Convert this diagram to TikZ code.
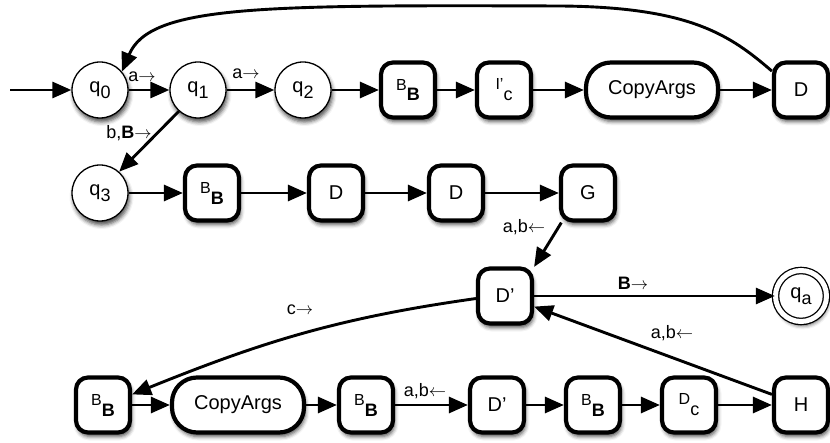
\documentclass[tikz,border=0pt]{standalone}
\usepackage{fontspec}
\setmainfont{Liberation Sans}
\usetikzlibrary{arrows.meta,shadows.blur}

% raised / lowered parts of a state name
\newcommand{\lowpart}[1]{\raisebox{-5.5pt}{\fontsize{18}{18}\selectfont #1}}
\newcommand{\highpart}[1]{\raisebox{5.5pt}{\fontsize{16}{16}\selectfont #1}}
\newcommand{\BB}{\highpart{B}\lowpart{\textbf{B}}}
% head-move arrows in the labels
\newcommand{\mr}{\ensuremath{\rightarrow}}
\newcommand{\ml}{\ensuremath{\leftarrow}}

\begin{document}
\begin{tikzpicture}[x=1pt,y=-1pt,
  shad/.style={blur shadow={shadow xshift=1.5pt,shadow yshift=-4pt,
      shadow blur radius=4pt,shadow opacity=70}},
  state/.style={circle,draw,line width=1.3pt,fill=white,minimum size=56pt,
      inner sep=0pt,font=\fontsize{20}{20}\selectfont,shad},
  accept/.style={state,minimum size=51pt,double,double distance=5pt},
  box/.style={rectangle,rounded corners=12pt,draw,line width=4.2pt,fill=white,
      minimum width=54pt,minimum height=55pt,inner sep=0pt,
      font=\fontsize{20}{20}\selectfont,shad},
  widebox/.style={box,rounded corners=25pt,minimum width=132pt},
  arr/.style={line width=2.9pt,-{Triangle[length=19pt,width=16pt]}},
  lbl/.style={font=\fontsize{18}{18}\selectfont,inner sep=0pt}
]
\useasboundingbox (0,0) rectangle (830,443);

% top row
\coordinate (start) at (10,90);
\node[state] (q0) at (100,90) {q\lowpart{0}};
\node[state] (q1) at (198,90) {q\lowpart{1}};
\node[state] (q2) at (303,90) {q\lowpart{2}};
\node[box] (bb1) at (408,90) {\BB};
\node[box] (ic) at (504,90) {\highpart{I'}\lowpart{c}};
\node[widebox] (copy1) at (652,90) {CopyArgs};
\node[box] (dtop) at (801,90) {D};

% second row
\node[state] (q3) at (100,193) {q\lowpart{3}};
\node[box] (bb2) at (212,193) {\BB};
\node[box] (d1) at (336,193) {D};
\node[box] (d2) at (456,193) {D};
\node[box] (g) at (588,193) {G};

% third row
\node[box] (dp1) at (505,296) {D'};
\node[accept] (qa) at (801,296) {q\lowpart{a}};

% bottom row
\node[box] (bb3) at (103,405) {\BB};
\node[widebox] (copy2) at (238,405) {CopyArgs};
\node[box] (bb4) at (366,405) {\BB};
\node[box] (dp2) at (497,405) {D'};
\node[box] (bb5) at (593,405) {\BB};
\node[box] (dc) at (689,405) {\highpart{D}\lowpart{c}};
\node[box] (h) at (801,405) {H};

% transitions
\draw[arr] (start) -- (q0);
\draw[arr] (q0) -- (q1);
\draw[arr] (q1) -- (q2);
\draw[arr] (q2) -- (bb1);
\draw[arr] (bb1) -- (ic);
\draw[arr] (ic) -- (copy1);
\draw[arr] (copy1) -- (dtop);
\draw[arr] (dtop.147) .. controls (730,35) and (690,7) .. (560,6)
  .. controls (260,5) and (150,5) .. (q0.40);
\draw[arr] (q1.228) -- (q3.48);
\draw[arr] (q3) -- (bb2);
\draw[arr] (bb2) -- (d1);
\draw[arr] (d1) -- (d2);
\draw[arr] (d2) -- (g);
\draw[arr] (g.228) -- (dp1.45);
\draw[arr] (dp1) -- (qa);
\draw[arr] (dp1.185) to[out=188,in=22] (bb3.20);
\draw[arr] (bb3) -- (copy2);
\draw[arr] (copy2) -- (bb4);
\draw[arr] (bb4) -- (dp2);
\draw[arr] (dp2) -- (bb5);
\draw[arr] (bb5) -- (dc);
\draw[arr] (dc) -- (h);
\draw[arr] (h.160) -- (dp1.-20);

% transition labels
\node[lbl] (l1) at (142,77) {a\mr};
\node[lbl] (l2) at (246,74) {a\mr};
\node[lbl] (l3) at (129,133) {b,\textbf{B}\mr};
\node[lbl] (l4) at (524,227) {a,b\ml};
\node[lbl] (l5) at (633,283) {\textbf{B}\mr};
\node[lbl] (l6) at (672,333) {a,b\ml};
\node[lbl] (l7) at (300,310) {c\mr};
\node[lbl] (l8) at (425,391) {a,b\ml};
\end{tikzpicture}
\end{document}
